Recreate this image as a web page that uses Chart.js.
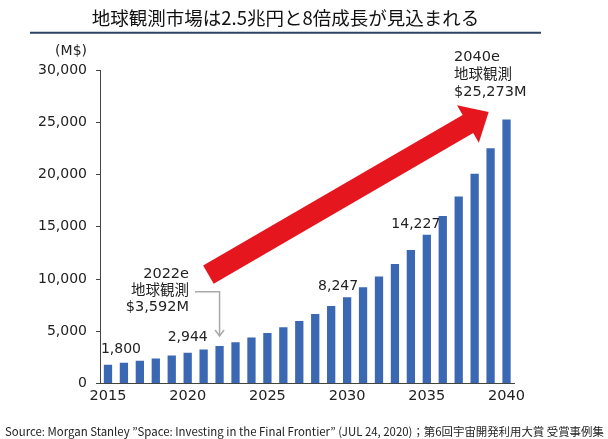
<!DOCTYPE html>
<html>
<head>
<meta charset="utf-8">
<script src="https://cdn.jsdelivr.net/npm/chart.js@4.4.0/dist/chart.umd.min.js"></script>
<style>
  html, body { margin: 0; padding: 0; background: #fff; }
  #wrap { width: 608px; height: 439px; }
</style>
</head>
<body>
<div id="wrap"><canvas id="myChart" width="608" height="439"></canvas></div>
<script>
const years = [2015, 2016, 2017, 2018, 2019, 2020, 2021, 2022, 2023, 2024, 2025, 2026, 2027,
               2028, 2029, 2030, 2031, 2032, 2033, 2034, 2035, 2036, 2037, 2038, 2039, 2040];
const marketValues = [1800, 1980, 2170, 2390, 2680, 2944, 3250, 3592, 3950, 4390, 4840, 5380, 5990,
                      6660, 7420, 8247, 9200, 10250, 11430, 12770, 14227, 16020, 17900, 20060, 22520, 25273];
const yTicks = [0, 5000, 10000, 15000, 20000, 25000, 30000];
const labelledYears = [2015, 2020, 2030, 2035];

const titleText = '地球観測市場は2.5兆円と8倍成長が見込まれる';
const sourceText = 'Source: Morgan Stanley ”Space: Investing in the Final Frontier” (JUL 24, 2020)；第6回宇宙開発利用大賞 受賞事例集';
const CJK = '"Noto Sans CJK JP", "Noto Sans", sans-serif';
const FONT = '"DejaVu Sans", "Noto Sans CJK JP", sans-serif';

function fmt(v) { return v.toLocaleString('en-US'); }

const decorations = {
    id: 'decorations',
    afterDraw(chart) {
        const c = chart.ctx;
        const x = chart.scales.x, y = chart.scales.y;
        c.save();

        // title + rule
        c.fillStyle = '#111';
        c.font = '18.5px ' + CJK;
        c.textAlign = 'center';
        c.textBaseline = 'middle';
        c.fillText(titleText, 285.5, 18);
        c.strokeStyle = '#2d4366';
        c.lineWidth = 2;
        c.beginPath();
        c.moveTo(30, 32.7);
        c.lineTo(541, 32.7);
        c.stroke();

        // unit
        c.font = '14px ' + FONT;
        c.textAlign = 'right';
        c.fillStyle = '#222';
        c.fillText('(M$)', 87, 51);

        // bar value labels
        const dx = { 2015: 13, 2020: 0, 2030: -9, 2035: -11 };
        const dy = { 2015: 10, 2020: 10, 2030: 6, 2035: 5 };
        c.textAlign = 'center';
        c.textBaseline = 'bottom';
        c.font = '14px ' + FONT;
        labelledYears.forEach(yr => {
            const i = years.indexOf(yr);
            const px = x.getPixelForValue(i) + dx[yr];
            const py = y.getPixelForValue(marketValues[i]) - dy[yr] + 2;
            c.fillText(fmt(marketValues[i]), px, py);
        });

        // red arrow
        const tx = x.getPixelForValue(6.3), ty = y.getPixelForValue(10415);
        const hx = x.getPixelForValue(23.88), hy = y.getPixelForValue(25990);
        const len = Math.hypot(hx - tx, hy - ty);
        const ux = (hx - tx) / len, uy = (hy - ty) / len;
        const nx = -uy, ny = ux;
        const sw = 10.5, hw = 21.7, hl = 24;
        const bx = hx - ux * hl, by = hy - uy * hl;
        c.fillStyle = '#e5161e';
        c.beginPath();
        c.moveTo(tx + nx * sw, ty + ny * sw);
        c.lineTo(bx + nx * sw, by + ny * sw);
        c.lineTo(bx + nx * hw, by + ny * hw);
        c.lineTo(hx, hy);
        c.lineTo(bx - nx * hw, by - ny * hw);
        c.lineTo(bx - nx * sw, by - ny * sw);
        c.lineTo(tx - nx * sw, ty - ny * sw);
        c.closePath();
        c.fill();

        // 2022e callout
        const i22 = years.indexOf(2022);
        const cx = x.getPixelForValue(i22);
        const cyEnd = y.getPixelForValue(marketValues[i22]) - 10;
        c.strokeStyle = '#a9a9a9';
        c.lineWidth = 1.5;
        c.beginPath();
        c.moveTo(195, 291.7);
        c.lineTo(cx, 291.7);
        c.lineTo(cx, cyEnd);
        c.stroke();
        c.beginPath();
        c.moveTo(cx - 4.5, cyEnd - 6);
        c.lineTo(cx, cyEnd);
        c.lineTo(cx + 4.5, cyEnd - 6);
        c.stroke();

        c.fillStyle = '#222';
        c.font = '14.5px ' + FONT;
        c.textAlign = 'right';
        c.textBaseline = 'middle';
        c.fillText('2022e', 189, 274);
        c.fillText('地球観測', 189, 291);
        c.fillText('$' + fmt(marketValues[i22]) + 'M', 189, 307.5);

        // 2040e callout
        const i40 = years.indexOf(2040);
        c.textAlign = 'left';
        c.fillText('2040e', 454, 57.5);
        c.fillText('地球観測', 454, 75);
        c.fillText('$' + fmt(marketValues[i40]) + 'M', 454, 92.5);

        // source, fitted to the page width
        c.font = '10px ' + CJK;
        const w = c.measureText(sourceText).width;
        c.font = (10 * 599 / w).toFixed(2) + 'px ' + CJK;
        c.fillStyle = '#222';
        c.textAlign = 'left';
        c.fillText(sourceText, 5, 432);

        c.restore();
    }
};

new Chart(document.getElementById('myChart'), {
    type: 'bar',
    data: {
        labels: years,
        datasets: [{
            data: marketValues,
            backgroundColor: '#3b68b3',
            borderWidth: 0,
            categoryPercentage: 1,
            barPercentage: 0.52
        }]
    },
    options: {
        responsive: false,
        animation: false,
        devicePixelRatio: 1,
        layout: { padding: { top: 70, right: 93.5, bottom: 30.5, left: 0 } },
        plugins: {
            legend: { display: false },
            tooltip: { enabled: false }
        },
        scales: {
            x: {
                grid: { display: false, drawTicks: false },
                border: { display: true, color: '#444', width: 1 },
                afterFit(scale) { scale.height = 25; },
                ticks: {
                    autoSkip: false,
                    maxRotation: 0,
                    padding: 4,
                    color: '#222',
                    font: { family: FONT, size: 14.5 },
                    callback(value, index) {
                        return years[index] % 5 === 0 ? String(years[index]) : null;
                    }
                }
            },
            y: {
                min: 0,
                max: 30000,
                afterFit(scale) { scale.width = 100; },
                afterBuildTicks(scale) { scale.ticks = yTicks.map(v => ({ value: v })); },
                grid: { drawOnChartArea: false, drawTicks: true, tickLength: 4, color: '#444' },
                border: { display: true, color: '#444', width: 1 },
                ticks: {
                    padding: 9,
                    color: '#222',
                    font: { family: FONT, size: 14 },
                    callback(v) { return fmt(v); }
                }
            }
        }
    },
    plugins: [decorations]
});
</script>
</body>
</html>
